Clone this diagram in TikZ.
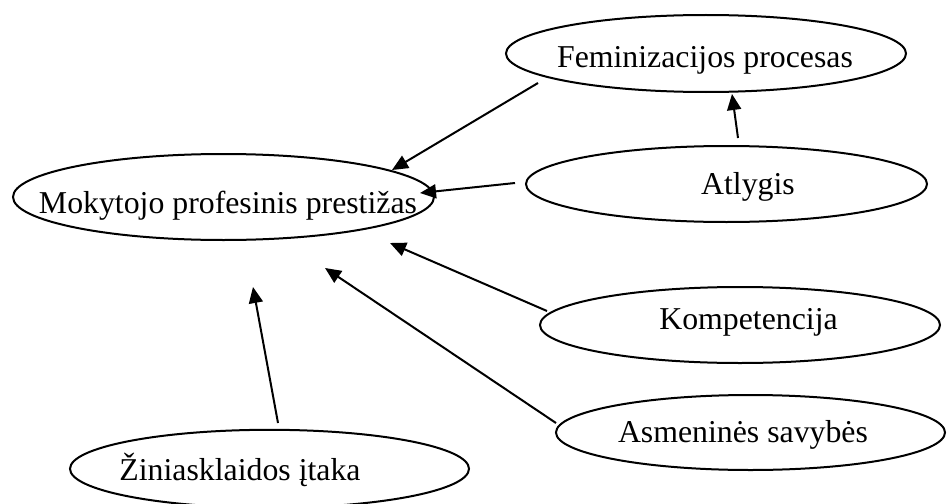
\documentclass[tikz,border=0pt]{standalone}
\usepackage{fontspec}
\setmainfont{Liberation Serif}
\usetikzlibrary{shapes.geometric,arrows.meta}
\begin{document}
\begin{tikzpicture}[x=1pt,y=-1pt,
  ell/.style={draw, ellipse, line width=2pt, inner sep=0pt},
  txt/.style={anchor=base, inner sep=0pt, font=\fontsize{31.8}{38}\selectfont},
  arr/.style={line width=2pt, -{Triangle[length=16pt,width=14pt]}}]
\useasboundingbox (0,0) rectangle (947,503);
% ellipses
\node[ell, minimum width=400pt, minimum height=77pt] (fem) at (706,53.5) {};
\node[ell, minimum width=401pt, minimum height=76pt] (atl) at (726.5,184) {};
\node[ell, minimum width=421pt, minimum height=86pt] (mok) at (223.5,197) {};
\node[ell, minimum width=400pt, minimum height=76pt] (komp) at (740,325) {};
\node[ell, minimum width=389pt, minimum height=75pt] (asm) at (750.5,432.5) {};
\node[ell, minimum width=399pt, minimum height=78pt] (zin) at (269.5,468.8) {};
% texts
\node[txt] (femt) at (705,67) {Feminizacijos procesas};
\node[txt] (atlt) at (748,194) {Atlygis};
\node[txt] (mokt) at (228,213) {Mokytojo profesinis prestižas};
\node[txt] (kompt) at (748.5,329) {Kompetencija};
\node[txt] (asmt) at (743,442) {Asmeninės savybės};
\node[txt] (zint) at (240,480) {Žiniasklaidos įtaka};
% connector ends
\coordinate (femS) at (538,83);
\coordinate (mokA) at (392,170);
\coordinate (atlS) at (515,183);
\coordinate (mokB) at (420,193);
\coordinate (atlT) at (738,138);
\coordinate (femE) at (732,94);
\coordinate (kompS) at (547,311);
\coordinate (mokC) at (390,243);
\coordinate (asmS) at (556,423);
\coordinate (mokD) at (325,268);
\coordinate (zinS) at (278,423);
\coordinate (mokE) at (253,287);
% connectors
\draw[arr] (femS) -- (mokA);
\draw[arr] (atlS) -- (mokB);
\draw[arr] (atlT) -- (femE);
\draw[arr] (kompS) -- (mokC);
\draw[arr] (asmS) -- (mokD);
\draw[arr] (zinS) -- (mokE);
\end{tikzpicture}
\end{document}
